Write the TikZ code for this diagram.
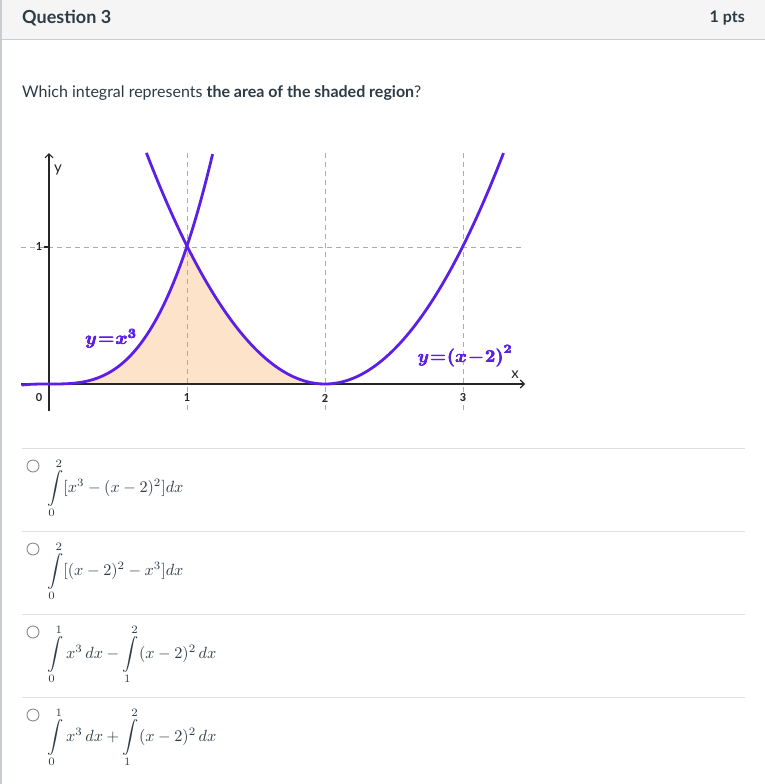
\documentclass[tikz,border=0pt]{standalone}
\usepackage{graphicx}
\usepackage{fontspec}
\usepackage{bm}
\setmainfont{Lato}
\usetikzlibrary{arrows.meta}
\definecolor{hdrbg}{HTML}{F5F5F5}
\definecolor{hdrline}{HTML}{C7CDD1}
\definecolor{txt}{HTML}{2D3B45}
\definecolor{curvec}{HTML}{5C1FE6}
\definecolor{peach}{HTML}{FDE3C9}
\definecolor{gridc}{HTML}{ABABAB}
\definecolor{sepc}{HTML}{DDDFE1}
\definecolor{radioc}{HTML}{8A8A8A}
\newcommand{\fakebold}[1]{\rlap{#1}\hspace{0.45pt}\rlap{#1}\hspace{-0.225pt}\raisebox{0.3pt}{\rlap{#1}}\hspace{-0.225pt}#1}
\newcommand{\lblA}{\fakebold{\scalebox{1.85}{$\bm{y}\mskip1mu{\bm{=}}\mskip1mu\bm{x}^{\bm{3}}$}}}
\newcommand{\lblB}{\fakebold{\scalebox{1.8}{$\bm{y}\mskip1mu{\bm{=}}\mskip1mu\bm{(}\bm{x}\mskip1mu{\bm{-}}\mskip1mu\bm{2}\bm{)}^{\bm{2}}$}}}
\newcommand{\optm}[1]{\scalebox{1.62}{$\displaystyle #1$}}
\tikzset{
  gridline/.style={draw=gridc, line width=0.9pt, dash pattern=on 5pt off 4pt},
  curveline/.style={draw=curvec, line width=2.8pt, line join=round},
  axisline/.style={draw=black!85, line width=1.1pt},
  ticklab/.style={font=\fontsize{11}{13}\selectfont\bfseries, text=black!85, inner sep=0pt},
  seprule/.style={draw=sepc, line width=1pt},
  radiobtn/.style={circle, draw=radioc, line width=0.9pt, minimum size=12pt, inner sep=0pt},
  optmath/.style={anchor=west, inner sep=0pt, text=txt},
  curvelab/.style={text=curvec, inner sep=0pt}
}
\begin{document}
\begin{tikzpicture}[x=1pt,y=-1pt]
\useasboundingbox (0,0) rectangle (765,784);
\fill[white] (0,0) rectangle (765,784);
% header
\fill[hdrbg] (0,0) rectangle (765,39);
\draw[hdrline, line width=1pt] (0,39.5) -- (765,39.5);
\draw[hdrline, line width=1.5pt] (0.75,0) -- (0.75,784);
\node[anchor=west, inner sep=0pt, text=txt, font=\fontsize{18}{21}\selectfont\bfseries] (qtitle) at (22,18) {Question 3};
\node[anchor=east, inner sep=0pt, text=txt, font=\fontsize{16}{19}\selectfont\bfseries] (qpts) at (745,18) {1 pts};
\node[anchor=west, inner sep=0pt, text=txt, font=\fontsize{16}{19}\selectfont] (qtext) at (22,93) {Which integral represents \textbf{the area of the shaded region}?};
% graph
\fill[peach] (49,384) -- plot[domain=0:1, samples=60] ({49+138*\x},{384-138*\x*\x*\x}) -- plot[domain=1:2, samples=60] ({49+138*\x},{384-138*(\x-2)*(\x-2)}) -- cycle;
\draw[gridline] (21,247) -- (525,247);
\draw[gridline] (187,153) -- (187,412);
\draw[gridline] (325,153) -- (325,412);
\draw[gridline] (463,153) -- (463,412);
\coordinate (xs) at (21,384);
\coordinate (xe) at (525,384);
\coordinate (ys) at (49,411);
\coordinate (ye) at (49,153);
\draw[axisline, -{Straight Barb[length=4pt,width=8pt]}] (xs) -- (xe);
\draw[axisline, -{Straight Barb[length=4pt,width=8pt]}] (ys) -- (ye);
\draw[axisline] (44,247) -- (49,247);
\node[ticklab] (t0) at (39,398) {0};
\node[ticklab] (t1) at (187,398) {1};
\node[ticklab] (t2) at (325,398) {2};
\node[ticklab] (t3) at (463,398) {3};
\node[ticklab] (ty1) at (39,247) {1};
\node[inner sep=0pt, font=\fontsize{15}{17}\selectfont, text=black!85] (ylab) at (58,170) {y};
\node[inner sep=0pt, font=\fontsize{15}{17}\selectfont, text=black!85] (xlab) at (515,375) {x};
\draw[curveline] plot[domain=-0.2:1.187, samples=120] ({49+138*\x},{384-138*\x*\x*\x});
\draw[curveline] plot[domain=0.706:3.294, samples=120] ({49+138*\x},{384-138*(\x-2)*(\x-2)});
\node[curvelab] (la) at (111,339) {\lblA};
\node[curvelab] (lb) at (465,356) {\lblB};
% separators
\draw[seprule] (22,448.5) -- (745,448.5);
\draw[seprule] (22,531.5) -- (745,531.5);
\draw[seprule] (22,614.5) -- (745,614.5);
\draw[seprule] (22,697.5) -- (745,697.5);
% options
\node[radiobtn] (r1) at (33,466) {};
\node[radiobtn] (r2) at (33,549) {};
\node[radiobtn] (r3) at (33,632) {};
\node[radiobtn] (r4) at (33,715) {};
\node[optmath] (o1) at (47,488.5) {\optm{\int\limits_0^2 [x^3-(x-2)^2]dx}};
\node[optmath] (o2) at (47,571.5) {\optm{\int\limits_0^2 [(x-2)^2-x^3]dx}};
\node[optmath] (o3) at (47,654.5) {\optm{\int\limits_0^1 x^3\,dx-\int\limits_1^2(x-2)^2\,dx}};
\node[optmath] (o4) at (47,737.5) {\optm{\int\limits_0^1 x^3\,dx+\int\limits_1^2(x-2)^2\,dx}};
\end{tikzpicture}
\end{document}
